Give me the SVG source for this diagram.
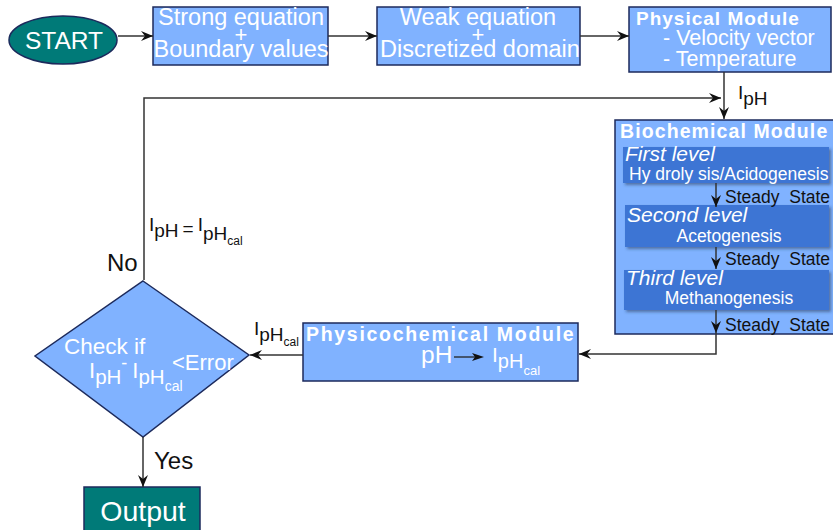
<svg xmlns="http://www.w3.org/2000/svg" width="833" height="530" viewBox="0 0 833 530">
<defs>
<marker id="ah" viewBox="0 0 12 10" refX="12" refY="5" markerWidth="12" markerHeight="10" orient="auto" markerUnits="userSpaceOnUse">
<path d="M0,0 L12,5 L0,10 L4,5 Z" fill="#111"/>
</marker>
<filter id="sh" x="-5%" y="-10%" width="115%" height="130%">
<feDropShadow dx="2" dy="2" stdDeviation="1.5" flood-color="#20304a" flood-opacity="0.5"/>
</filter>
</defs>
<style>
text{font-family:"Liberation Sans",Arial,sans-serif;}
.box{fill:#80b2ff;stroke:#1c2a5c;stroke-width:1.5;}
.teal{fill:#007a78;stroke:#1c2a5c;stroke-width:1.5;}
.sub{fill:#3d74d4;filter:url(#sh);}
.w{fill:#fff;}
.k{fill:#111;}
.b{font-weight:bold;}
.it{font-style:italic;}
.ln{fill:none;stroke:#333;stroke-width:1.5;}
.pre{white-space:pre;}
.plus{fill:none;stroke:#fff;stroke-width:1.3;}
</style>
<rect width="833" height="530" fill="#fff"/>

<g id="start">
<ellipse class="teal" cx="63" cy="40" rx="54" ry="24"/>
<text class="w" x="64" y="49" font-size="24.5" text-anchor="middle">START</text>
</g>

<g id="strong">
<rect class="box" x="153" y="7" width="175" height="58"/>
<text class="w" x="241" y="25" font-size="23.5" text-anchor="middle">Strong equation</text>
<text class="w" x="241" y="42" font-size="22" text-anchor="middle">+</text>
<text class="w" x="241" y="57" font-size="23.5" text-anchor="middle">Boundary values</text>
</g>

<g id="weak">
<rect class="box" x="377" y="7" width="203" height="58"/>
<text class="w" x="478" y="25" font-size="23.5" text-anchor="middle">Weak equation</text>
<text class="w" x="478" y="42" font-size="22" text-anchor="middle">+</text>
<text class="w" x="480" y="57" font-size="23.5" text-anchor="middle">Discretized domain</text>
</g>

<g id="physical">
<rect class="box" x="629" y="7" width="202" height="65"/>
<text class="w b" x="636" y="25" font-size="19" letter-spacing="1">Physical Module</text>
<text class="w" x="663" y="45" font-size="21.5">- Velocity vector</text>
<text class="w" x="663" y="66" font-size="21.5">- Temperature</text>
</g>

<g id="biochemical">
<rect class="box" x="615" y="120" width="220" height="214"/>
<text class="w b" x="620" y="138" font-size="19.5" letter-spacing="1.1">Biochemical Module</text>
<rect class="sub" x="623" y="147" width="206" height="36"/>
<text class="w it" x="625" y="161" font-size="21">First level</text>
<text class="w" x="629" y="180" font-size="17.5">Hy droly sis/Acidogenesis</text>
<rect class="sub" x="625" y="205" width="204" height="42"/>
<text class="w it" x="627" y="222" font-size="21">Second level</text>
<text class="w" x="729" y="242" font-size="17.5" text-anchor="middle">Acetogenesis</text>
<rect class="sub" x="624" y="270" width="205" height="40"/>
<text class="w it" x="626" y="285" font-size="21">Third level</text>
<text class="w" x="729" y="304" font-size="17.5" text-anchor="middle">Methanogenesis</text>
<text class="k pre" x="725" y="203" font-size="17.5" xml:space="preserve">Steady  State</text>
<text class="k pre" x="725" y="265" font-size="17.5" xml:space="preserve">Steady  State</text>
<text class="k pre" x="725" y="331" font-size="17.5" xml:space="preserve">Steady  State</text>
</g>

<g id="physicochemical">
<rect class="box" x="303" y="323" width="275" height="58"/>
<text class="w b" x="306" y="341" font-size="19.5" letter-spacing="1.7">Physicochemical Module</text>
<text class="w" x="421" y="363" font-size="24.5">pH</text>
<path d="M454,357 H476" stroke="#222" stroke-width="1.3"/>
<path d="M472,353 L484,357 L472,361 L475,357 Z" fill="#111"/>
<text class="w" x="492" y="362" font-size="21">I<tspan dy="6" font-size="20">pH</tspan><tspan dy="7" font-size="13">cal</tspan></text>
</g>

<g id="check">
<polygon class="box" points="143,281 249,355 143,437 35,356"/>
<text class="w" x="64" y="354" font-size="22.5">Check if</text>
<text class="w" x="89" y="378" font-size="22">I<tspan dy="6" font-size="20.5">pH</tspan><tspan dy="-15" font-size="18">-</tspan><tspan dx="5" dy="9">I</tspan><tspan dy="6" font-size="20.5">pH</tspan><tspan dy="7" font-size="14">cal</tspan></text>
<text class="w" x="172" y="370" font-size="22">&lt;Error</text>
</g>

<g id="output">
<rect class="teal" x="84" y="487" width="116" height="45"/>
<text class="w" x="143" y="521" font-size="28.5" text-anchor="middle">Output</text>
</g>

<g id="connectors">
<path class="ln" d="M118,36 H153" marker-end="url(#ah)"/>
<path class="ln" d="M328,36 H377" marker-end="url(#ah)"/>
<path class="ln" d="M580,36 H629" marker-end="url(#ah)"/>
<path class="ln" d="M724,72 V119" marker-end="url(#ah)"/>
<path class="ln" d="M144,280 V98 H721" marker-end="url(#ah)"/>
<path class="ln" d="M716,183 V207" marker-end="url(#ah)"/>
<path class="ln" d="M716,247 V269" marker-end="url(#ah)"/>
<path class="ln" d="M716,310 V333" marker-end="url(#ah)"/>
<path class="ln" d="M716,333 V354 H579" marker-end="url(#ah)"/>
<path class="ln" d="M303,355 H250" marker-end="url(#ah)"/>
<path class="ln" d="M143,437 V487" marker-end="url(#ah)"/>
<text class="k" x="738" y="99" font-size="19">I<tspan dy="6">pH</tspan></text>
<text class="k" x="149" y="231" font-size="19">I<tspan dy="6">pH</tspan><tspan dx="4" dy="-2">=</tspan><tspan dx="4" dy="-4">I</tspan><tspan dy="9">pH</tspan><tspan dy="5" font-size="12">cal</tspan></text>
<text class="k" x="107" y="271" font-size="24">No</text>
<text class="k" x="154" y="469" font-size="24">Yes</text>
<text class="k" x="254" y="335" font-size="19">I<tspan dy="6">pH</tspan><tspan dy="5" font-size="12">cal</tspan></text>
</g>
</svg>
